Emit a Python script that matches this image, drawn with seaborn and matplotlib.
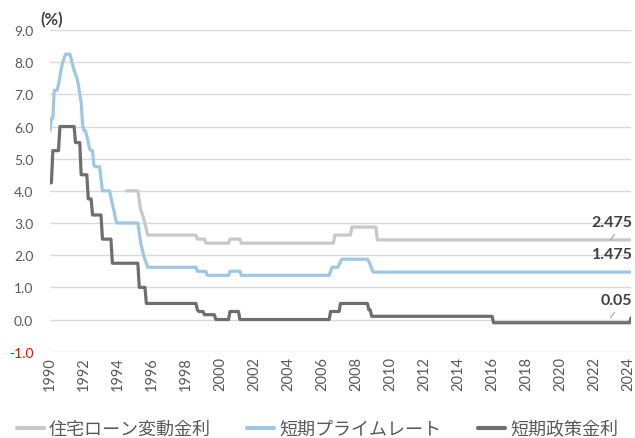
import numpy as np
import pandas as pd
import matplotlib
matplotlib.use("Agg")
import matplotlib.pyplot as plt
import seaborn as sns

# Rate change points (year-month, %); each rate holds until the next change.
loan_months = ["1994-07", "1995-04", "1995-05", "1995-06", "1995-07", "1995-08",
               "1995-09", "1995-10", "1998-09", "1999-03", "2000-08", "2001-04",
               "2006-10", "2007-10", "2009-04"]
loan_rates = [4.0, 3.7, 3.4, 3.3, 3.15, 3.0, 2.8, 2.625, 2.5, 2.375, 2.5, 2.375,
              2.625, 2.875, 2.475]

prime_months = ["1990-01", "1990-02", "1990-04", "1990-07", "1990-08", "1990-09",
                "1990-10", "1990-11", "1990-12", "1991-04", "1991-05", "1991-06",
                "1991-07", "1991-08", "1991-09", "1991-10", "1991-11", "1991-12",
                "1992-01", "1992-03", "1992-04", "1992-05", "1992-06", "1992-08",
                "1992-09", "1993-01", "1993-02", "1993-08", "1993-09", "1993-10",
                "1993-11", "1993-12", "1995-04", "1995-05", "1995-06", "1995-07",
                "1995-08", "1995-09", "1995-10", "1998-09", "1999-04", "2000-08",
                "2001-04", "2006-07", "2006-08", "2007-01", "2007-02", "2007-03",
                "2008-10", "2008-11", "2008-12", "2009-01"]
prime_rates = [5.875, 6.25, 7.125, 7.3, 7.55, 7.8, 8.0, 8.125, 8.25, 8.1, 7.9, 7.75,
               7.625, 7.5, 7.3, 7.0, 6.75, 6.05, 5.875, 5.7, 5.5, 5.3, 5.25, 4.8,
               4.75, 4.375, 4.0, 3.8, 3.6, 3.4, 3.2, 3.0, 2.7, 2.375, 2.2, 2.0,
               1.875, 1.75, 1.625, 1.5, 1.375, 1.5, 1.375, 1.5, 1.625, 1.7, 1.8,
               1.875, 1.8, 1.7, 1.575, 1.475]

policy_months = ["1990-01", "1990-03", "1990-08", "1991-07", "1991-11", "1992-04",
                 "1992-07", "1993-02", "1993-09", "1995-04", "1995-09", "1998-09",
                 "1998-10", "1999-02", "1999-10", "2000-08", "2001-03", "2006-07",
                 "2007-02", "2008-10", "2008-12", "2016-02", "2024-03"]
policy_rates = [4.25, 5.25, 6.0, 5.5, 4.5, 3.75, 3.25, 2.5, 1.75, 1.0, 0.5, 0.3,
                0.25, 0.15, 0.0, 0.25, 0.0, 0.25, 0.5, 0.3, 0.1, -0.1, 0.05]

series_names = ["住宅ローン変動金利", "短期プライムレート", "短期政策金利"]
series_colors = ["#C8C8C8", "#9DC8E4", "#6E6E6E"]
first_month, last_month = "1990-01", "2024-03"
year_ticks = list(range(1990, 2025, 2))
rate_ticks = [-1.0, 0.0, 1.0, 2.0, 3.0, 4.0, 5.0, 6.0, 7.0, 8.0, 9.0]

months = pd.period_range(first_month, last_month, freq="M")
month_x = months.year + (months.month - 1) / 12.0


def monthly(change_months, rates):
    s = pd.Series(rates, index=pd.PeriodIndex(change_months, freq="M"))
    return s.reindex(months).ffill().to_numpy()


frames = []
for name, cm, rt in zip(series_names,
                        [loan_months, prime_months, policy_months],
                        [loan_rates, prime_rates, policy_rates]):
    frames.append(pd.DataFrame({"year": month_x, "rate": monthly(cm, rt), "series": name}))
df = pd.concat(frames, ignore_index=True).dropna()

sns.set_theme(style="white")
plt.rcParams["font.family"] = ["Lato", "Noto Sans CJK JP", "DejaVu Sans"]

fig = plt.figure(figsize=(6.35, 4.39), dpi=100)
ax = fig.add_axes([50 / 635, 1 - 352.7 / 439, 581 / 635, (352.7 - 31) / 439])

palette = dict(zip(series_names, series_colors))
sns.lineplot(data=df, x="year", y="rate", hue="series", hue_order=series_names,
             palette=palette, linewidth=2.3, estimator=None, sort=False, ax=ax)

ax.set_xlim(1990, 2024 + 2 / 12)
ax.set_ylim(-1.0, 9.0)
ax.set_xticks(year_ticks)
ax.set_xticklabels([str(y) for y in year_ticks], rotation=90, fontsize=10.5, color="#595959")
ax.set_yticks(rate_ticks)
ax.set_yticklabels([f"{v:.1f}" for v in rate_ticks], fontsize=10, color="#595959")
for lab, v in zip(ax.get_yticklabels(), rate_ticks):
    if v < 0:
        lab.set_color("#FF0000")
ax.tick_params(axis="x", length=0, pad=3)
ax.tick_params(axis="y", length=0, pad=12)
ax.yaxis.grid(True, color="#D9D9D9", linewidth=1.0)
ax.xaxis.grid(False)
for sp in ax.spines.values():
    sp.set_visible(False)
ax.set_xlabel("")
ax.set_ylabel("")

# End-of-series value labels
x_end = month_x[-1]
for i, (name, color) in enumerate(zip(series_names, series_colors)):
    v = df[df["series"] == name]["rate"].iloc[-1]
    ax.text(x_end + 0.08, v + 0.55, f"{v:g}", ha="right", va="center",
            fontsize=11.5, fontweight="bold", color="#404040", clip_on=False)
    if i != 1:
        ax.plot([2022.95, 2023.2], [v + 0.0, v + 0.17], color="#A6A6A6", lw=0.8)

fig.text(40 / 635, 1 - 20 / 439, "(%)", ha="left", va="center", fontsize=12,
         fontweight="bold", color="#404040")

handles, labels = ax.get_legend_handles_labels()
ax.legend_.remove()
for h in handles:
    h.set_linewidth(3)
fig.legend(handles, labels, loc="center", bbox_to_anchor=(0.5, 1 - 430 / 439), ncol=3,
           frameon=False, prop={"family": ["Noto Sans CJK JP"], "size": 13},
           labelcolor="#595959", handlelength=1.5, handletextpad=0.3, columnspacing=2.0)

fig.savefig("out.png", dpi=100)
